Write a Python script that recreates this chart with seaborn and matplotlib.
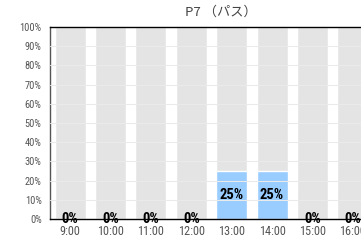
import pandas as pd
import matplotlib
matplotlib.use("Agg")
import matplotlib.pyplot as plt
import seaborn as sns

# data
hours = ["9:00", "10:00", "11:00", "12:00", "13:00", "14:00", "15:00", "16:00"]
values = [0, 0, 0, 0, 25, 25, 0, 0]
full = [100] * len(hours)
title = "P7 （パス）"

df = pd.DataFrame({"hour": hours, "value": values, "full": full})

sns.set_style("white")
plt.rcParams['font.family'] = ['Roboto Condensed', 'Noto Sans CJK JP', 'DejaVu Sans']

fig = plt.figure(figsize=(3.61, 2.40), dpi=100)
# axes runs off the right edge like the original screenshot
ax = fig.add_axes([50 / 361, 21 / 240, 323 / 361, 192 / 240])

# grey background bars, then the values
sns.barplot(data=df, x="hour", y="full", color="#e4e4e4", width=0.77,
            saturation=1, ax=ax, zorder=1)
sns.barplot(data=df, x="hour", y="value", color="#99ccff", width=0.77,
            saturation=1, ax=ax, zorder=2)
for y in range(10, 100, 10):
    ax.axhline(y, color="#eaeaea", lw=0.75, zorder=3)

ax.set_xlim(-0.5, len(hours) - 0.5)
ax.set_ylim(0, 100)
ax.set_yticks(range(0, 101, 10))
ax.set_yticklabels([f"{v}%" for v in range(0, 101, 10)])
ax.set_xlabel("")
ax.set_ylabel("")

ax.spines["right"].set_visible(False)
for s in ["bottom", "top"]:
    ax.spines[s].set_color("black")
    ax.spines[s].set_linewidth(1.0)
ax.spines["left"].set_color("#555555")
ax.spines["left"].set_linewidth(1.0)

ax.tick_params(axis="y", length=0, labelsize=7.5, labelcolor="#555555", pad=6)
ax.tick_params(axis="x", direction="in", length=2, width=0.6, color="#333333",
               labelsize=8.8, labelcolor="#555555", pad=4)

# value labels
for i, v in enumerate(values):
    ax.text(i, v / 2, f"{v}%", ha="center", va="center", fontsize=10.5,
            fontweight="semibold", color="black", zorder=4)

fig.text(221 / 361, 1 - 12 / 240, title, ha="center", va="center",
         fontsize=9.5, color="#444444", family=['Noto Sans CJK JP', 'DejaVu Sans'])

fig.savefig("out.png", dpi=100)
